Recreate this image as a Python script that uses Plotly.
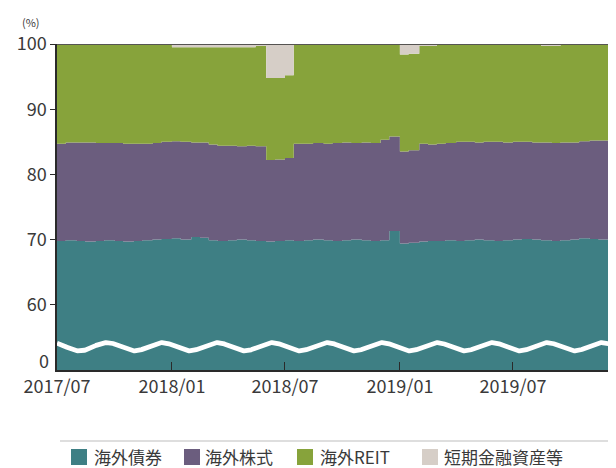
import numpy as np
import pandas as pd
import plotly.graph_objects as go

# ---------------- data (percent of portfolio, semi-monthly) ----------------
dates = pd.date_range("2017-07-01", periods=60, freq="SMS")

bond = [69.8, 69.9, 69.8, 69.7, 69.8, 69.9, 69.8, 69.7, 69.8, 69.9,
        70.0, 70.1, 70.2, 70.0, 70.4, 70.3, 69.9, 69.8, 69.9, 70.0,
        69.9, 69.8, 69.7, 69.8, 69.9, 69.8, 69.9, 70.0, 69.9, 69.8,
        69.9, 70.0, 69.9, 69.8, 69.9, 71.3, 69.4, 69.5, 69.7, 69.8,
        69.8, 69.9, 69.8, 69.9, 70.0, 69.9, 69.8, 69.9, 70.0, 70.1,
        70.0, 69.9, 69.8, 69.9, 70.0, 70.2, 70.1, 70.0, 70.1, 70.0]

stock = [14.9, 15.0, 15.1, 15.2, 15.0, 14.9, 15.0, 15.0, 14.9, 14.8,
         14.8, 14.9, 14.9, 15.0, 14.5, 14.6, 14.7, 14.6, 14.5, 14.3,
         14.5, 14.5, 12.5, 12.5, 12.6, 14.9, 14.8, 14.8, 14.8, 15.0,
         15.0, 14.8, 15.0, 15.0, 15.4, 14.5, 14.1, 14.2, 15.0, 14.8,
         14.9, 14.9, 15.2, 15.1, 14.9, 15.1, 15.2, 15.0, 15.0, 14.9,
         14.9, 15.0, 15.0, 15.0, 14.9, 14.9, 15.1, 15.2, 15.2, 15.2]

reit = [15.2, 15.0, 15.0, 15.0, 15.1, 15.1, 15.1, 15.2, 15.2, 15.2,
        15.1, 14.9, 14.4, 14.5, 14.6, 14.6, 14.9, 15.1, 15.1, 15.2,
        15.1, 15.4, 12.6, 12.5, 12.7, 15.2, 15.2, 15.1, 15.2, 15.1,
        15.0, 15.1, 15.0, 15.1, 14.6, 14.1, 14.9, 14.8, 15.0, 15.1,
        15.2, 15.1, 14.9, 14.9, 15.0, 14.9, 14.9, 15.0, 14.9, 14.9,
        15.0, 14.8, 14.9, 15.0, 15.0, 14.8, 14.7, 14.7, 14.6, 14.7]

cash = [0.1, 0.1, 0.1, 0.1, 0.1, 0.1, 0.1, 0.1, 0.1, 0.1,
        0.1, 0.1, 0.5, 0.5, 0.5, 0.5, 0.5, 0.5, 0.5, 0.5,
        0.5, 0.3, 5.2, 5.2, 4.8, 0.1, 0.1, 0.1, 0.1, 0.1,
        0.1, 0.1, 0.1, 0.1, 0.1, 0.1, 1.6, 1.5, 0.3, 0.3,
        0.1, 0.1, 0.1, 0.1, 0.1, 0.1, 0.1, 0.1, 0.1, 0.1,
        0.1, 0.3, 0.3, 0.1, 0.1, 0.1, 0.1, 0.1, 0.1, 0.1]

series_names = ["海外債券", "海外株式", "海外REIT", "短期金融資産等"]
series_values = [bond, stock, reit, cash]
colors = ["#3e7f84", "#6b5d7e", "#87a33b", "#d6cec7"]

ytick_values = [0, 60, 70, 80, 90, 100]
ytick_labels = ["0", "60", "70", "80", "90", "100"]

# ---------------- broken y-axis transform ----------------
BREAK_LOW = 51.3  # where 0 sits on the compressed scale


def T(v):
    v = np.asarray(v, dtype=float)
    return np.where(v >= 60, v, BREAK_LOW + v * (60 - BREAK_LOW) / 60)


cum = np.cumsum(np.array(series_values, dtype=float), axis=0)

FONT = "Noto Sans CJK JP, Noto Sans, sans-serif"
TXT = "#3a3a3a"

fig = go.Figure()
for k, name in enumerate(series_names):
    fig.add_trace(go.Scatter(
        x=dates, y=T(cum[k]), name=name, mode="lines",
        line=dict(width=0, shape="hv", color=colors[k]),
        fill="tozeroy" if k == 0 else "tonexty",
        fillcolor=colors[k], showlegend=False, hoverinfo="skip"))

# axis-break wave (decoration)
wx = np.linspace(0, 1, 900)
wy = 53.57 + 0.64 * np.cos(2 * np.pi * (wx - 0.0894) / 0.0984)
fig.add_trace(go.Scatter(x=wx, y=wy, xaxis="x2", mode="lines",
                         line=dict(color="white", width=4.8),
                         showlegend=False, hoverinfo="skip"))

# ---------------- layout helpers (page pixel -> paper) ----------------
OFF = 8  # default page body margin
L, R, TOP, BOT = 57, 616, 44, 370


def px(xp):
    return (xp - L) / (R - L)


def py(yp):
    return (BOT - yp) / (BOT - TOP)


shapes = [
    dict(type="line", xref="paper", yref="y", x0=0, x1=1, y0=100, y1=100,
         line=dict(color="#2a2a2a", width=1.5)),
    dict(type="line", xref="paper", yref="paper", x0=px(60), x1=1,
         y0=py(441), y1=py(441), line=dict(color="#bdbdbd", width=1)),
]
annotations = [
    dict(text="(%)", xref="paper", yref="paper", x=px(31), y=py(22),
         xanchor="center", yanchor="middle", showarrow=False,
         font=dict(size=11, color=TXT, family=FONT)),
    dict(text="0", xref="paper", yref="y", x=0, xshift=-6, yshift=2,
         y=float(T(0)), xanchor="right", yanchor="middle", showarrow=False,
         font=dict(size=18, color=TXT, family=FONT)),
]
sq_left = [71, 184, 297, 422]
txt_left = [92, 203, 318, 442]
for k, name in enumerate(series_names):
    shapes.append(dict(type="rect", xref="paper", yref="paper",
                       x0=px(sq_left[k]), x1=px(sq_left[k] + 16),
                       y0=py(449), y1=py(465), fillcolor=colors[k],
                       line=dict(width=0)))
    annotations.append(dict(text=name, xref="paper", yref="paper",
                            x=px(txt_left[k]), y=py(456), xanchor="left",
                            yanchor="middle", showarrow=False,
                            font=dict(size=17, color=TXT, family=FONT)))

fig.update_layout(
    width=616 - OFF, height=468 - OFF,
    margin=dict(l=L - OFF, r=0, t=TOP - OFF, b=468 - BOT),
    paper_bgcolor="white", plot_bgcolor="white",
    font=dict(family=FONT, color=TXT, size=18),
    showlegend=False,
    xaxis=dict(type="date", range=["2017-07-01", "2019-12-13"],
               tickformat="%Y/%m", dtick="M6", tick0="2017-07-01",
               ticks="inside", ticklen=8, tickcolor="#2a2a2a", tickwidth=1,
               showline=True, linecolor="#2a2a2a", linewidth=1.5,
               showgrid=False, zeroline=False,
               tickfont=dict(size=18, color=TXT, family=FONT)),
    xaxis2=dict(overlaying="x", range=[0, 1], visible=False),
    yaxis=dict(range=[50, 100],
               tickvals=[float(v) for v in T(ytick_values[1:])],
               ticktext=ytick_labels[1:],
               ticks="outside", ticklen=5, tickcolor="#2a2a2a",
               showline=True, linecolor="#2a2a2a", linewidth=1.5,
               showgrid=False, zeroline=False,
               tickfont=dict(size=18, color=TXT, family=FONT)),
    shapes=shapes, annotations=annotations,
)

fig.write_html("out.html")
